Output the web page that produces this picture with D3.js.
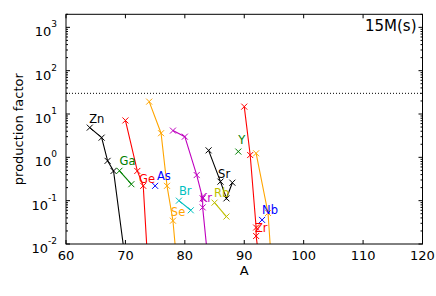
<!DOCTYPE html>
<html>
<head>
<meta charset="utf-8">
<script src="https://cdn.jsdelivr.net/npm/d3@7"></script>
<style>
  body { margin: 0; background: #fff; }
  text { font-family: "DejaVu Sans", sans-serif; }
</style>
</head>
<body>
<div id="vis"></div>
<script>
// frame and plot box (matplotlib-like layout)
const FRAME_WIDTH = 436;
const FRAME_HEIGHT = 296;
const MARGINS = {left: 66, right: 13.5, top: 14.3, bottom: 52};

// data
const elements = ["Zn", "Ga", "Ge", "As", "Se", "Br", "Kr", "Rb", "Sr", "Y", "Zr", "Nb", "Mo"];
const isoA = [
  [64, 66, 67, 68, 70],
  [69, 71],
  [70, 72, 73, 74, 76],
  [75],
  [74, 76, 77, 78, 80, 82],
  [79, 81],
  [78, 80, 82, 83, 83, 84, 86],
  [85, 87],
  [84, 86, 87, 88],
  [89],
  [90, 91, 92, 92, 94, 96],
  [93],
  [92, 94, 95]
];
const prodFactor = [
  [4.85, 2.85, 0.83, 0.485, 0.004],
  [0.49, 0.24],
  [7.1, 0.485, 0.22, 0.001, 0.00001],
  [0.22],
  [19.3, 3.6, 0.22, 0.0345, 0.00003, 0.000001],
  [0.1, 0.06],
  [4.14, 3.0, 0.39, 0.113, 0.07, 0.003, 0.00001],
  [0.09, 0.043],
  [1.45, 0.275, 0.113, 0.26],
  [1.36],
  [14.8, 1.13, 0.024, 0.0153, 0.0001, 0.000001],
  [0.036],
  [1.24, 0.052, 0.0005]
];
// where each element name sits (A, production factor)
const labelA = [63.9, 69.0, 72.3, 75.3, 77.65, 79.0, 82.5, 84.9, 85.6, 89.0, 91.8, 93.0, null];
const labelF = [6.2, 0.67, 0.256, 0.30, 0.044, 0.135, 0.091, 0.12, 0.33, 2.0, 0.019, 0.049, null];
const colorCycle = ["#000000", "#008000", "#ff0000", "#0000ff", "#ffa500", "#00bfbf", "#bf00bf", "#bfbf00"];

const xTicks = [60, 70, 80, 90, 100, 110, 120];
const yExps = [-2, -1, 0, 1, 2, 3];
const refLine = 30;   // dotted line
const modelName = "15M(s)";

const FRAME = d3.select("#vis")
  .append("svg")
    .attr("width", FRAME_WIDTH)
    .attr("height", FRAME_HEIGHT);

const x = d3.scaleLinear()
  .domain([60, 120])
  .range([MARGINS.left, FRAME_WIDTH - MARGINS.right]);

const y = d3.scaleLog()
  .domain([0.01, 2000])
  .range([FRAME_HEIGHT - MARGINS.bottom, MARGINS.top]);

const x0 = x.range()[0], x1 = x.range()[1];
const y0 = y.range()[0], y1 = y.range()[1];

FRAME.append("clipPath").attr("id", "clip")
  .append("rect")
    .attr("x", x0).attr("y", y1)
    .attr("width", x1 - x0).attr("height", y0 - y1);

const plot = FRAME.append("g").attr("clip-path", "url(#clip)");

// dotted reference line
plot.append("line")
  .attr("x1", x0).attr("x2", x1)
  .attr("y1", y(refLine)).attr("y2", y(refLine))
  .attr("stroke", "#000")
  .attr("stroke-width", 1)
  .attr("stroke-dasharray", "1,2");

const line = d3.line().x(d => x(d[0])).y(d => y(d[1]));

elements.forEach((el, i) => {
  const col = colorCycle[i % colorCycle.length];
  const pts = isoA[i].map((a, j) => [a, prodFactor[i][j]]);

  plot.append("path")
    .datum(pts)
    .attr("d", line)
    .attr("fill", "none")
    .attr("stroke", col)
    .attr("stroke-width", 1.1);

  const s = 3;
  plot.selectAll(null)
    .data(pts)
    .enter()
    .append("path")
      .attr("d", d => {
        const cx = x(d[0]), cy = y(d[1]);
        return `M${cx - s},${cy - s}L${cx + s},${cy + s}M${cx - s},${cy + s}L${cx + s},${cy - s}`;
      })
      .attr("stroke", col)
      .attr("stroke-width", 1);

  if (labelA[i] !== null) {
    FRAME.append("text")
      .attr("x", x(labelA[i]))
      .attr("y", y(labelF[i]))
      .attr("fill", col)
      .attr("font-size", 11.5)
      .text(el);
  }
});

// frame
FRAME.append("rect")
  .attr("x", x0).attr("y", y1)
  .attr("width", x1 - x0).attr("height", y0 - y1)
  .attr("fill", "none")
  .attr("stroke", "#000")
  .attr("stroke-width", 1);

// x ticks, inward on bottom and top
const xt = FRAME.append("g");
xTicks.forEach(t => {
  xt.append("line").attr("x1", x(t)).attr("x2", x(t))
    .attr("y1", y0).attr("y2", y0 - 4).attr("stroke", "#000");
  xt.append("line").attr("x1", x(t)).attr("x2", x(t))
    .attr("y1", y1).attr("y2", y1 + 4).attr("stroke", "#000");
  xt.append("text")
    .attr("x", x(t)).attr("y", y0 + 15.5)
    .attr("text-anchor", "middle")
    .attr("font-size", 13)
    .text(t);
});

// y ticks, log decades plus minor ticks
const yt = FRAME.append("g");
yExps.forEach(e => {
  const v = Math.pow(10, e);
  [x0, x1].forEach((xx, k) => {
    const dir = k === 0 ? 1 : -1;
    yt.append("line").attr("x1", xx).attr("x2", xx + dir * 4)
      .attr("y1", y(v)).attr("y2", y(v)).attr("stroke", "#000");
    for (let m = 2; m <= 9; m++) {
      const mv = m * v;
      if (mv > y.domain()[1]) break;
      yt.append("line").attr("x1", xx).attr("x2", xx + dir * 2)
        .attr("y1", y(mv)).attr("y2", y(mv)).attr("stroke", "#000");
    }
  });
  const lab = yt.append("text")
    .attr("x", x0 - 9)
    .attr("y", y(v) + 9)
    .attr("text-anchor", "end")
    .attr("font-size", 13);
  lab.append("tspan").text("10");
  lab.append("tspan")
    .attr("font-size", 9)
    .attr("dy", -9)
    .text(e < 0 ? "-" + (-e) : e);
});

// axis titles
FRAME.append("text")
  .attr("x", (x0 + x1) / 2)
  .attr("y", 275)
  .attr("text-anchor", "middle")
  .attr("font-size", 13)
  .text("A");

FRAME.append("text")
  .attr("transform", `translate(23,${(y0 + y1) / 2}) rotate(-90)`)
  .attr("text-anchor", "middle")
  .attr("font-size", 13)
  .text("production factor");

FRAME.append("text")
  .attr("x", x1 - 6)
  .attr("y", 31)
  .attr("text-anchor", "end")
  .attr("font-size", 15)
  .text(modelName);
</script>
</body>
</html>
